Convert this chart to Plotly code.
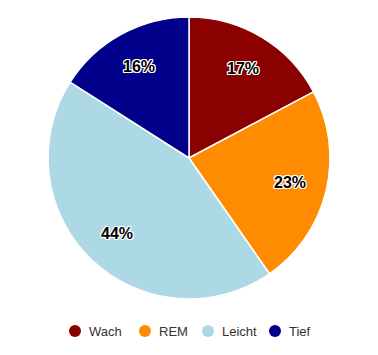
import math
import plotly.graph_objects as go

stages = ["Wach", "REM", "Leicht", "Tief"]
minutes = [82, 110, 208, 76]
colors = ["#8B0000", "#FF8C00", "#ADD8E6", "#00008B"]

W, H = 378, 355
CX, CY, R = 189, 158, 141  # pie centre / radius in px
FONT = "Liberation Sans, Arial"
OUTLINE = "1px 1px 0 white, -1px -1px 0 white, 1px -1px 0 white, -1px 1px 0 white, 0 1px 0 white, 0 -1px 0 white, 1px 0 0 white, -1px 0 0 white"

fig = go.Figure()
fig.add_trace(go.Pie(
    labels=stages, values=minutes, sort=False, direction="clockwise", rotation=0,
    marker=dict(colors=colors, line=dict(color="white", width=1.5)),
    textinfo="none", showlegend=False, hoverinfo="label+percent",
    domain=dict(x=[(CX - R) / W, (CX + R) / W], y=[1 - (CY + R) / H, 1 - (CY - R) / H]),
))

# percentage labels at the middle angle of each slice
total = sum(minutes)
cum = 0
annotations = []
for v in minutes:
    mid = (cum + v / 2) / total * 2 * math.pi
    cum += v
    px = CX + 0.74 * R * math.sin(mid)
    py = CY - 0.74 * R * math.cos(mid)
    annotations.append(dict(
        x=px / W, y=1 - py / H, xref="paper", yref="paper", showarrow=False,
        xanchor="center", yanchor="middle",
        text=f"{round(v / total * 100)}%",
        font=dict(family=FONT, size=16, color="black", weight="bold", shadow=OUTLINE),
    ))

# custom legend (circle markers, compact spacing)
leg_x = [75, 145, 208, 275]
leg_y = 331
for s, c, lx in zip(stages, colors, leg_x):
    fig.add_shape(type="circle", xref="paper", yref="paper",
                  x0=(lx - 6) / W, x1=(lx + 6) / W, y0=1 - (leg_y + 6) / H, y1=1 - (leg_y - 6) / H,
                  fillcolor=c, line=dict(width=0))
    annotations.append(dict(
        x=(lx + 12) / W, y=1 - leg_y / H, xref="paper", yref="paper", showarrow=False,
        xanchor="left", yanchor="middle", text=s,
        font=dict(family=FONT, size=13, color="#333"),
    ))

fig.update_layout(
    width=W, height=H, margin=dict(l=0, r=0, t=0, b=0),
    paper_bgcolor="white", plot_bgcolor="white",
    annotations=annotations,
)
fig.write_html("out.html")
